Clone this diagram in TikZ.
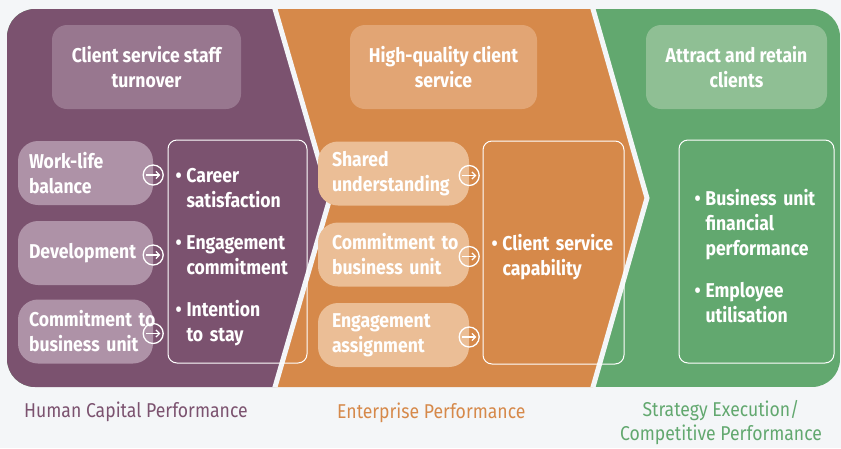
\documentclass[tikz,border=0pt]{standalone}
\usepackage{fontspec}
\setmainfont{Fira Sans}[FakeStretch=0.88]
\usetikzlibrary{arrows.meta}
\definecolor{pagebg}{HTML}{F4F6F8}
\definecolor{purpanel}{HTML}{7B526F}
\definecolor{purhead}{HTML}{98778F}
\definecolor{purinput}{HTML}{AE92A7}
\definecolor{orgpanel}{HTML}{D6894A}
\definecolor{orghead}{HTML}{E2A574}
\definecolor{orginput}{HTML}{EBBE96}
\definecolor{grnpanel}{HTML}{62A86F}
\definecolor{grnhead}{HTML}{8FBF94}
\newcommand\boxfont{\fontsize{20}{25}\selectfont\bfseries}
\newcommand\lblfont{\fontsize{20}{24}\selectfont}
\newcommand\itm[1]{\par\noindent\hangindent=11pt\hangafter=1\makebox[11pt][l]{\textbullet}#1\par}
\newcommand\itmgap{\par\vspace{17pt}}
\tikzset{
  gap/.style={pagebg, line width=5pt, line join=miter},
  head/.style={fill=#1, rounded corners=15pt, minimum width=187pt, minimum height=84pt, align=center, text=white, font=\boxfont},
  cause/.style 2 args={fill=#1, rounded corners=20pt, text width=#2, inner xsep=11pt, minimum height=64pt, align=left, text=white, font=\boxfont},
  effect/.style={draw=white, line width=1pt, rounded corners=9pt, minimum height=223pt, text width=124pt, inner xsep=0pt, align=left, text=white, font=\boxfont},
  nxt/.style={circle, draw=white, line width=1.3pt, minimum size=20pt, inner sep=0pt},
  golink/.style={white, line width=1.3pt, -{Straight Barb[length=3.5pt,width=7pt]}},
  lbl/.style={text=#1, font=\lblfont, inner sep=0pt}
}
\begin{document}
\begin{tikzpicture}[x=1pt,y=-1pt]
  \fill[pagebg] (0,0) rectangle (841,448);
  \useasboundingbox (0,0) rectangle (841,448);
  \begin{scope}
    \clip[rounded corners=28pt] (7,9) rectangle (840,387);
    \fill[grnpanel] (7,9) rectangle (840,387);
    \fill[orgpanel] (275,9) -- (593,9) -- (647,198) -- (593,387) -- (275,387) -- (330,198) -- cycle;
    \fill[purpanel] (7,9) -- (275,9) -- (330,198) -- (275,387) -- (7,387) -- cycle;
    \draw[gap] (269.2,-11) -- (330,198) -- (269.2,407);
    \draw[gap] (587.3,-11) -- (647,198) -- (587.3,407);
  \end{scope}

  \node[head=purhead, minimum width=189pt] (hcp) at (146.5,67) {Client service staff\\turnover};
  \node[head=orghead] (ep) at (443.5,67) {High-quality client\\service};
  \node[head=grnhead, minimum width=181pt] (sep) at (736.5,67) {Attract and retain\\clients};

  \node[cause={purinput}{113pt}] (wlb) at (85.5,173) {Work-life\\balance};
  \node[cause={purinput}{113pt}] (dev) at (85.5,253) {Development};
  \node[cause={purinput}{113pt}] (cbu) at (85.5,331.5) {Commitment~to\\business unit};
  \node[cause={orginput}{123pt}, inner xsep=14pt] (shu) at (393.5,173.5) {Shared\\understanding};
  \node[cause={orginput}{123pt}, inner xsep=14pt] (cob) at (393.5,254.5) {Commitment~to\\business unit};
  \node[cause={orginput}{123pt}, inner xsep=14pt] (eas) at (393.5,335) {Engagement\\assignment};

  \node[effect, minimum width=139pt] (hcpout) at (237.5,251.5) {\itm{Career\newline satisfaction}\itmgap\itm{Engagement\newline commitment}\itmgap\itm{Intention\newline to~stay}};
  \node[effect, minimum width=141pt] (epout) at (553.5,252.5) {\itm{Client~service\newline capability}};
  \node[effect, minimum width=155pt] (sepout) at (756.5,251.5) {\itm{Business~unit\newline financial\newline performance}\itmgap\itm{Employee\newline utilisation}};

  \foreach \n in {wlb,dev,cbu,shu,cob,eas}{
    \node[nxt] (\n-go) at ([yshift=-2pt]\n.east) {};
    \draw[golink] ([xshift=3.5pt]\n-go.west) -- ([xshift=-3.5pt]\n-go.east);
  }

  \node[lbl=purpanel, anchor=base west] (hcplbl) at (24,417) {Human Capital Performance};
  \node[lbl=orgpanel, anchor=base west] (eplbl) at (337,418) {Enterprise Performance};
  \node[lbl=grnpanel, align=center] (seplbl) at (721,423) {Strategy Execution/\\Competitive Performance};
\end{tikzpicture}
\end{document}
